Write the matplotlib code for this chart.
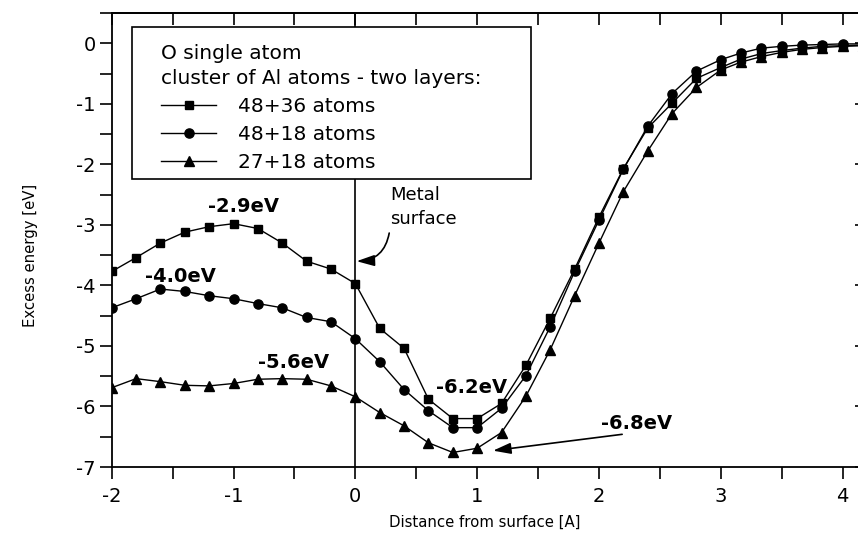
import matplotlib
matplotlib.use("Agg")
import matplotlib.pyplot as plt
from matplotlib.ticker import MultipleLocator
from matplotlib.patches import Rectangle

# distance from surface [A]
distancia = [-2.0, -1.8, -1.6, -1.4, -1.2, -1.0, -0.8, -0.6, -0.4, -0.2,
             0.0, 0.2, 0.4, 0.6, 0.8, 1.0, 1.2, 1.4, 1.6, 1.8,
             2.0, 2.2, 2.4, 2.6, 2.8, 3.0, 3.167, 3.333, 3.5, 3.667,
             3.833, 4.0, 4.167]

# excess energy [eV]
energia_48_36 = [-3.77, -3.54, -3.30, -3.12, -3.03, -2.98, -3.06, -3.30, -3.60, -3.73,
                 -3.97, -4.71, -5.04, -5.88, -6.20, -6.20, -5.95, -5.32, -4.54, -3.73,
                 -2.87, -2.07, -1.40, -0.99, -0.58, -0.40, -0.26, -0.17, -0.12, -0.08,
                 -0.05, -0.04, -0.03]
energia_48_18 = [-4.37, -4.22, -4.06, -4.10, -4.17, -4.22, -4.30, -4.37, -4.53, -4.60,
                 -4.88, -5.26, -5.72, -6.07, -6.35, -6.35, -6.03, -5.49, -4.68, -3.77,
                 -2.92, -2.08, -1.37, -0.83, -0.46, -0.27, -0.16, -0.08, -0.05, -0.03,
                 -0.02, -0.01, -0.01]
energia_27_18 = [-5.69, -5.54, -5.59, -5.65, -5.66, -5.62, -5.55, -5.54, -5.55, -5.66,
                 -5.84, -6.10, -6.32, -6.60, -6.76, -6.69, -6.43, -5.83, -5.06, -4.17,
                 -3.30, -2.45, -1.78, -1.16, -0.73, -0.44, -0.31, -0.22, -0.15, -0.10,
                 -0.07, -0.05, -0.04]

rotulos = ["48+36 atoms", "48+18 atoms", "27+18 atoms"]

plt.rcParams["font.family"] = ["DejaVu Sans"]
plt.rcParams["axes.unicode_minus"] = False

fig = plt.figure(figsize=(8.58, 5.45), dpi=100)
ax = fig.add_axes([0.1302, 0.1431, 0.8803, 0.833])

ax.axvline(0, color="black", lw=1.2, zorder=1)

ax.plot(distancia, energia_48_36, color="black", lw=1, marker="s", ms=6.2, label=rotulos[0], zorder=3)
ax.plot(distancia, energia_48_18, color="black", lw=1, marker="o", ms=6.6, label=rotulos[1], zorder=4)
ax.plot(distancia, energia_27_18, color="black", lw=1, marker="^", ms=7.2, label=rotulos[2], zorder=2)

ax.set_xlim(-2, 4.2)
ax.set_ylim(-7, 0.5)
ax.xaxis.set_major_locator(MultipleLocator(1))
ax.xaxis.set_minor_locator(MultipleLocator(0.5))
ax.yaxis.set_major_locator(MultipleLocator(1))
ax.yaxis.set_minor_locator(MultipleLocator(0.5))
ax.tick_params(axis="both", which="both", direction="out", length=8.5, width=1.2,
               labelsize=14, top=False, right=False)
ax.tick_params(axis="x", which="major", pad=6)
ax.tick_params(axis="y", which="major", pad=3)

topo = ax.secondary_xaxis("top")
topo.xaxis.set_major_locator(MultipleLocator(1))
topo.xaxis.set_minor_locator(MultipleLocator(0.5))
topo.tick_params(axis="x", which="both", direction="in", length=8.5, width=1.2, labeltop=False)

direita = ax.secondary_yaxis("right")
direita.yaxis.set_major_locator(MultipleLocator(1))
direita.tick_params(axis="y", which="major", direction="in", length=8.5, width=1.2, labelright=False)

for s in list(ax.spines.values()) + list(topo.spines.values()) + list(direita.spines.values()):
    s.set_linewidth(1.3)

ax.set_xlabel("Distance from surface [A]", fontsize=10.7)
ax.set_ylabel("Excess energy [eV]", fontsize=10.7)
ax.xaxis.set_label_coords(0.494, -0.105)
ax.yaxis.set_label_coords(-0.097, 0.465)

# legend box
caixa = Rectangle((0.0269, 0.6344), 0.5282, 0.3348, transform=ax.transAxes,
                  facecolor="white", edgecolor="black", lw=1.2, zorder=9)
ax.add_patch(caixa)

leg = ax.legend(title="O single atom\ncluster of Al atoms - two layers:",
                loc="upper left", bbox_to_anchor=(0.0653, 0.932), borderaxespad=0,
                frameon=False, fontsize=14.5, title_fontsize=14.5,
                handlelength=2.75, handletextpad=1.05,
                labelspacing=0.45, borderpad=0, alignment="left")
leg.get_title().set_linespacing(1.42)
leg.set_zorder(10)

# energy labels
ax.text(-0.916, -2.70, "-2.9eV", fontsize=14, fontweight="bold", ha="center", va="center")
ax.text(-1.434, -3.86, "-4.0eV", fontsize=14, fontweight="bold", ha="center", va="center")
ax.text(-0.51, -5.27, "-5.6eV", fontsize=14, fontweight="bold", ha="center", va="center")
ax.text(0.955, -5.68, "-6.2eV", fontsize=14, fontweight="bold", ha="center", va="center")
ax.text(2.31, -6.28, "-6.8eV", fontsize=14, fontweight="bold", ha="center", va="center")

seta = dict(arrowstyle="-|>,head_length=0.9,head_width=0.28", color="black", lw=1.2,
            mutation_scale=12, shrinkA=0, shrinkB=0)
ax.annotate("", xy=(1.13, -6.73), xytext=(2.19, -6.46), arrowprops=seta)

ax.text(0.283, -2.36, "Metal\nsurface", fontsize=13, ha="left", va="top", linespacing=1.4)
ax.annotate("", xy=(0.01, -3.60), xytext=(0.278, -3.135),
            arrowprops=dict(seta, connectionstyle="arc3,rad=-0.4"))

fig.savefig("out.png", dpi=100)
